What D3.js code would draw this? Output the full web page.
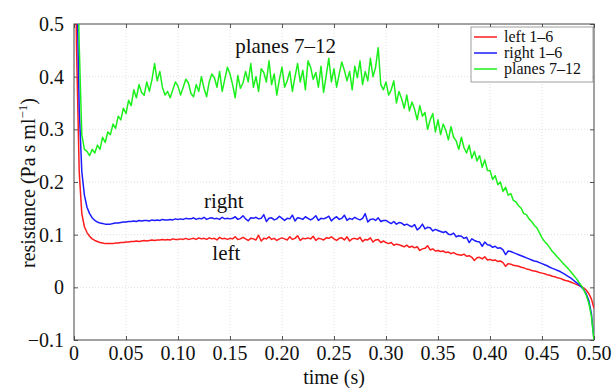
<!DOCTYPE html>
<html>
<head>
<meta charset="utf-8">
<script src="https://cdn.jsdelivr.net/npm/d3@7"></script>
<style>
  html, body { margin: 0; padding: 0; background: #fff; }
  svg { display: block; font-family: "Liberation Serif", "DejaVu Serif", serif; }
</style>
</head>
<body>
<svg id="chart" width="616" height="388"></svg>
<script>
(function () {
    'use strict';

    // sampling step of the traces (s)
    const step = 0.0025;

    const leftValues = [
        0.85, 0.45, 0.22, 0.14, 0.115, 0.104, 0.097, 0.092, 0.089, 0.087,
        0.085, 0.084, 0.083, 0.083, 0.083, 0.083, 0.084, 0.084, 0.085, 0.085,
        0.086, 0.086, 0.087, 0.087, 0.088, 0.087, 0.088, 0.089, 0.088, 0.089,
        0.09, 0.089, 0.09, 0.09, 0.091, 0.09, 0.091, 0.09, 0.092, 0.091,
        0.091, 0.092, 0.091, 0.093, 0.091, 0.092, 0.093, 0.091, 0.094, 0.092,
        0.093, 0.091, 0.094, 0.092, 0.093, 0.09, 0.095, 0.092, 0.093, 0.091,
        0.093, 0.092, 0.096, 0.091, 0.092, 0.095, 0.092, 0.089, 0.093, 0.092,
        0.09, 0.099, 0.088, 0.093, 0.092, 0.096, 0.091, 0.093, 0.089, 0.092,
        0.094, 0.092, 0.09, 0.096, 0.091, 0.093, 0.098, 0.089, 0.093, 0.092,
        0.094, 0.092, 0.097, 0.089, 0.093, 0.092, 0.09, 0.094, 0.093, 0.096,
        0.092, 0.089, 0.093, 0.094, 0.09, 0.096, 0.088, 0.092, 0.093, 0.091,
        0.095, 0.087, 0.091, 0.09, 0.094, 0.086, 0.09, 0.091, 0.085, 0.088,
        0.085, 0.083, 0.085, 0.08, 0.082, 0.081, 0.079, 0.077, 0.08, 0.076,
        0.078, 0.075, 0.077, 0.07, 0.073, 0.074, 0.079, 0.071, 0.073, 0.069,
        0.07, 0.068, 0.069, 0.066, 0.067, 0.064, 0.066, 0.063, 0.062, 0.061,
        0.063, 0.059, 0.06, 0.057, 0.051, 0.056, 0.057, 0.054, 0.058, 0.052,
        0.053, 0.051, 0.052, 0.049, 0.05, 0.047, 0.04, 0.045, 0.044, 0.042,
        0.041, 0.04, 0.038, 0.037, 0.035, 0.034, 0.032, 0.031, 0.03, 0.028,
        0.027, 0.026, 0.024, 0.023, 0.021, 0.02, 0.018, 0.017, 0.015, 0.013,
        0.012, 0.01, 0.008, 0.006, 0.004, 0.002, -0.001, -0.005, -0.012, -0.022,
        -0.04
    ];

    const rightValues = [
        0.9, 0.6, 0.34, 0.22, 0.175, 0.152, 0.14, 0.132, 0.127, 0.124,
        0.122, 0.121, 0.12, 0.12, 0.12, 0.121, 0.122, 0.122, 0.123, 0.124,
        0.124, 0.125, 0.125, 0.126, 0.125, 0.127, 0.126, 0.127, 0.127, 0.126,
        0.128, 0.127, 0.128, 0.127, 0.129, 0.128, 0.128, 0.129, 0.128, 0.13,
        0.129, 0.13, 0.129, 0.131, 0.13, 0.13, 0.132, 0.129, 0.131, 0.13,
        0.133, 0.129, 0.131, 0.132, 0.13, 0.131, 0.129, 0.133, 0.13, 0.131,
        0.13, 0.131, 0.134, 0.129, 0.131, 0.136, 0.13, 0.126, 0.132, 0.131,
        0.133, 0.13, 0.131, 0.138, 0.125, 0.131, 0.132, 0.128, 0.13, 0.135,
        0.131, 0.127, 0.131, 0.13, 0.137, 0.126, 0.132, 0.131, 0.129, 0.134,
        0.131, 0.128, 0.131, 0.136, 0.127, 0.131, 0.13, 0.132, 0.135, 0.126,
        0.131, 0.134, 0.129, 0.131, 0.137, 0.127, 0.131, 0.129, 0.133, 0.13,
        0.128, 0.131, 0.14, 0.124, 0.129, 0.13, 0.127, 0.132, 0.125, 0.127,
        0.127, 0.124, 0.121, 0.125, 0.12, 0.123, 0.122, 0.118, 0.12, 0.117,
        0.115, 0.119, 0.109, 0.113, 0.12, 0.111, 0.114, 0.113, 0.107, 0.11,
        0.108, 0.106, 0.104, 0.106, 0.101, 0.1, 0.103, 0.096, 0.098, 0.097,
        0.093, 0.095, 0.085, 0.092, 0.089, 0.087, 0.086, 0.078, 0.086, 0.081,
        0.08, 0.076, 0.078, 0.074, 0.075, 0.071, 0.062, 0.069, 0.068, 0.066,
        0.064, 0.062, 0.06, 0.058, 0.056, 0.054, 0.052, 0.05, 0.049, 0.047,
        0.045, 0.043, 0.041, 0.038, 0.036, 0.034, 0.032, 0.03, 0.027, 0.024,
        0.021, 0.018, 0.014, 0.01, 0.006, 0.001, -0.004, -0.012, -0.025, -0.05,
        -0.1
    ];

    const planesValues = [
        0.95, 0.72, 0.46, 0.29, 0.262, 0.258, 0.25, 0.262, 0.255, 0.27,
        0.262, 0.285, 0.275, 0.295, 0.29, 0.31, 0.302, 0.325, 0.318, 0.34,
        0.33, 0.355, 0.345, 0.375, 0.36, 0.385, 0.37, 0.365, 0.39, 0.372,
        0.395, 0.425, 0.392, 0.41, 0.38, 0.365, 0.372, 0.36, 0.375, 0.39,
        0.382, 0.365, 0.38, 0.395, 0.388, 0.368, 0.362, 0.385, 0.372, 0.4,
        0.378, 0.362, 0.39, 0.405, 0.398, 0.38, 0.41, 0.372, 0.395, 0.418,
        0.405, 0.385, 0.36, 0.402, 0.378, 0.388, 0.41, 0.39, 0.425, 0.38,
        0.4, 0.372, 0.415, 0.408, 0.39, 0.43, 0.385, 0.405, 0.365, 0.395,
        0.418, 0.38, 0.392, 0.41, 0.372, 0.4, 0.425, 0.39, 0.412, 0.375,
        0.43, 0.418, 0.395, 0.408, 0.38, 0.42, 0.37, 0.402, 0.435, 0.39,
        0.415, 0.38, 0.405, 0.428, 0.412, 0.392, 0.41, 0.375, 0.42, 0.398,
        0.43, 0.385, 0.41, 0.392, 0.435, 0.4, 0.418, 0.455, 0.385, 0.375,
        0.39, 0.365, 0.375, 0.392, 0.35, 0.372, 0.358, 0.34, 0.365, 0.335,
        0.352, 0.338, 0.318, 0.345, 0.325, 0.332, 0.3, 0.318, 0.33, 0.295,
        0.318, 0.29, 0.31, 0.298, 0.28, 0.305, 0.285, 0.278, 0.262, 0.285,
        0.265, 0.255, 0.27, 0.245, 0.258, 0.24, 0.25, 0.228, 0.242, 0.222,
        0.222, 0.205, 0.212, 0.195, 0.2, 0.182, 0.19, 0.175, 0.178, 0.165,
        0.162, 0.155, 0.15, 0.14, 0.138, 0.13, 0.125, 0.118, 0.113, 0.104,
        0.094, 0.087, 0.082, 0.075, 0.068, 0.063, 0.057, 0.052, 0.046, 0.041,
        0.036, 0.03, 0.024, 0.018, 0.011, 0.004, -0.004, -0.015, -0.03, -0.055,
        -0.1
    ];

    const seriesNames = ['left 1\u20136', 'right 1\u20136', 'planes 7\u201312'];
    const seriesColors = ['#ff1c1c', '#1c1cff', '#1cf01c'];
    const xTicks = [0, 0.05, 0.10, 0.15, 0.20, 0.25, 0.30, 0.35, 0.40, 0.45, 0.50];
    const xTickLabels = ['0', '0.05', '0.10', '0.15', '0.20', '0.25', '0.30', '0.35', '0.40', '0.45', '0.50'];
    const yTicks = [-0.1, 0, 0.1, 0.2, 0.3, 0.4, 0.5];
    const yTickLabels = ['\u22120.1', '0', '0.1', '0.2', '0.3', '0.4', '0.5'];

    const series = [leftValues, rightValues, planesValues].map((vals, i) => ({
        name: seriesNames[i],
        color: seriesColors[i],
        points: vals.map((v, j) => [j * step, v])
    }));

    const width = 616;
    const height = 388;
    const margin = { top: 24, right: 22, bottom: 48, left: 74 };
    const plotW = width - margin.left - margin.right;
    const plotH = height - margin.top - margin.bottom;

    const x = d3.scaleLinear().domain([0, 0.5]).range([0, plotW]);
    const y = d3.scaleLinear().domain([-0.1, 0.5]).range([plotH, 0]);

    const svg = d3.select('#chart');
    const g = svg.append('g').attr('transform', `translate(${margin.left},${margin.top})`);

    g.append('defs').append('clipPath').attr('id', 'plot-clip')
        .append('rect').attr('width', plotW).attr('height', plotH);

    // grid
    g.append('g').selectAll('line').data(xTicks.slice(1, -1)).join('line')
        .attr('x1', (d) => x(d)).attr('x2', (d) => x(d))
        .attr('y1', 0).attr('y2', plotH)
        .attr('stroke', '#d6d6d6').attr('stroke-width', 0.8).attr('stroke-dasharray', '1,2');
    g.append('g').selectAll('line').data(yTicks.slice(1, -1)).join('line')
        .attr('y1', (d) => y(d)).attr('y2', (d) => y(d))
        .attr('x1', 0).attr('x2', plotW)
        .attr('stroke', '#d6d6d6').attr('stroke-width', 0.8).attr('stroke-dasharray', '1,2');

    // axes with inward ticks
    const tickStyle = (sel) => {
        sel.select('.domain').remove();
        sel.selectAll('.tick line').attr('stroke', '#555');
        sel.selectAll('.tick text').remove();
    };
    g.append('g').attr('transform', `translate(0,${plotH})`)
        .call(d3.axisBottom(x).tickValues(xTicks).tickSizeInner(-4).tickSizeOuter(0)).call(tickStyle);
    g.append('g')
        .call(d3.axisTop(x).tickValues(xTicks).tickSizeInner(-4).tickSizeOuter(0)).call(tickStyle);
    g.append('g')
        .call(d3.axisLeft(y).tickValues(yTicks).tickSizeInner(-4).tickSizeOuter(0)).call(tickStyle);
    g.append('g').attr('transform', `translate(${plotW},0)`)
        .call(d3.axisRight(y).tickValues(yTicks).tickSizeInner(-4).tickSizeOuter(0)).call(tickStyle);

    g.append('rect')
        .attr('width', plotW).attr('height', plotH)
        .attr('fill', 'none').attr('stroke', '#444').attr('stroke-width', 1);

    // tick labels
    g.append('g').selectAll('text').data(xTicks).join('text')
        .attr('x', (d) => x(d)).attr('y', plotH + 20)
        .attr('text-anchor', 'middle').attr('font-size', 20).attr('fill', '#111')
        .text((d, i) => xTickLabels[i]);
    g.append('g').selectAll('text').data(yTicks).join('text')
        .attr('x', -10).attr('y', (d) => y(d) + 7)
        .attr('text-anchor', 'end').attr('font-size', 20).attr('fill', '#111')
        .text((d, i) => yTickLabels[i]);

    // lines
    const line = d3.line().x((d) => x(d[0])).y((d) => y(d[1]));
    const lines = g.append('g').attr('clip-path', 'url(#plot-clip)');
    series.forEach((s) => {
        lines.append('path')
            .datum(s.points)
            .attr('d', line)
            .attr('fill', 'none')
            .attr('stroke', s.color)
            .attr('stroke-width', 1.5)
            .attr('stroke-linejoin', 'round');
    });

    // annotations
    const notes = [
        { text: 'planes 7\u201312', t: 0.155, v: 0.445 },
        { text: 'right', t: 0.125, v: 0.150 },
        { text: 'left', t: 0.133, v: 0.051 }
    ];
    g.append('g').selectAll('text').data(notes).join('text')
        .attr('x', (d) => x(d.t)).attr('y', (d) => y(d.v))
        .attr('font-size', 21).attr('fill', '#111')
        .text((d) => d.text);

    // axis titles
    svg.append('text')
        .attr('x', margin.left + plotW / 2).attr('y', 384)
        .attr('text-anchor', 'middle').attr('font-size', 20).attr('fill', '#111')
        .text('time (s)');

    const yTitle = svg.append('text')
        .attr('transform', 'translate(35,183) rotate(-90)')
        .attr('text-anchor', 'middle').attr('font-size', 20).attr('fill', '#111');
    yTitle.append('tspan').text('resistance (Pa s ml');
    yTitle.append('tspan').attr('font-size', 13).attr('dy', -8).text('\u22121');
    yTitle.append('tspan').attr('dy', 8).text(')');

    // legend
    const lg = svg.append('g').attr('transform', 'translate(471,27)');
    lg.append('rect')
        .attr('width', 122).attr('height', 55)
        .attr('fill', '#fff').attr('stroke', '#888').attr('stroke-width', 0.8);
    series.forEach((s, i) => {
        const row = lg.append('g').attr('transform', `translate(0,${10 + i * 16})`);
        row.append('line')
            .attr('x1', 3).attr('x2', 26).attr('y1', 0).attr('y2', 0)
            .attr('stroke', s.color).attr('stroke-width', 1.5);
        row.append('text')
            .attr('x', 33).attr('y', 5)
            .attr('font-size', 16).attr('fill', '#111')
            .text(s.name);
    });
})();
</script>
</body>
</html>
